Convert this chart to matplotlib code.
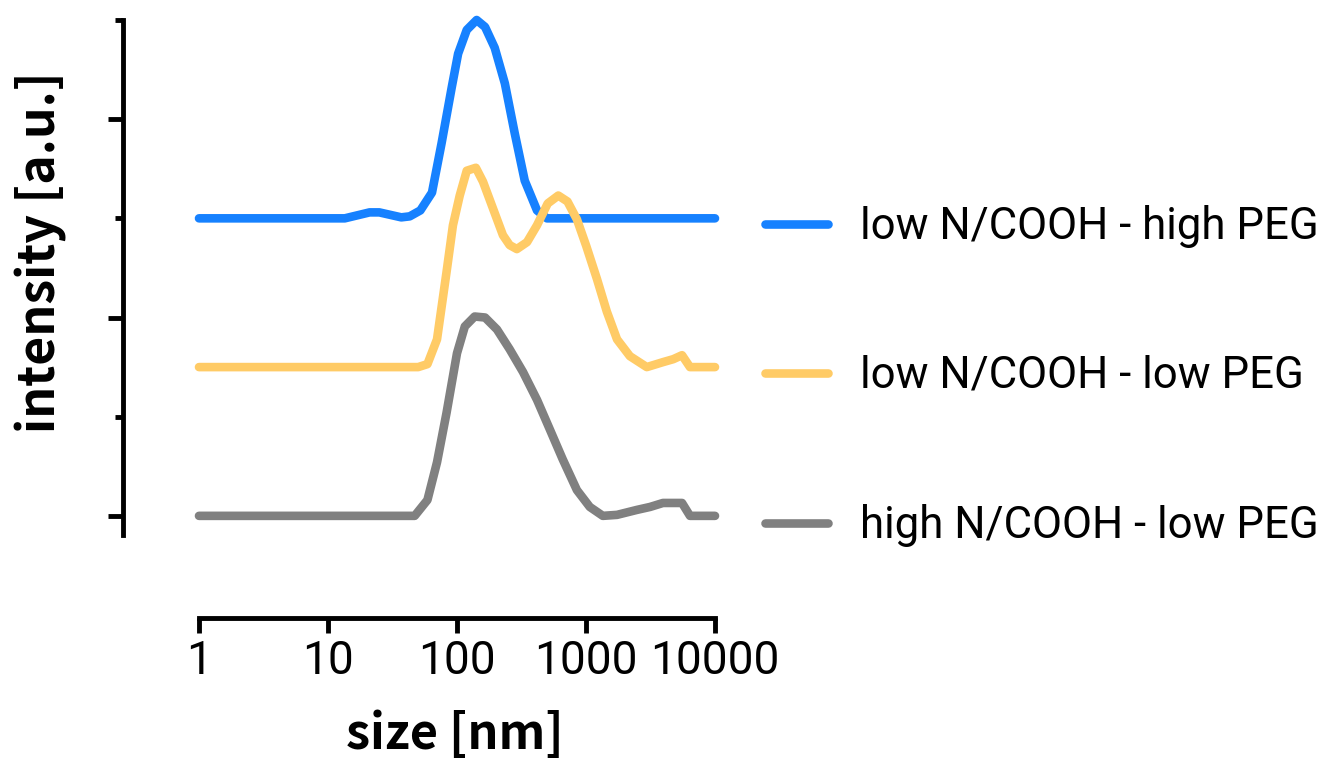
import numpy as np
import matplotlib
matplotlib.use('Agg')
import matplotlib.pyplot as plt
from matplotlib.ticker import FixedLocator, LogLocator, NullFormatter

plt.rcParams['font.family'] = ['Noto Sans CJK KR', 'DejaVu Sans']

# size [nm] and intensity (peak-normalised) for each sample
labels = ['low N/COOH - high PEG', 'low N/COOH - low PEG', 'high N/COOH - low PEG']
colors = ['#1681FF', '#FFCB66', '#808080']
offsets = [3.0, 1.5, 0.0]

size_blue = [1, 13.5, 21, 25, 37, 43, 52, 64, 76, 91, 102, 119, 142, 165, 196,
             235, 280, 335, 417, 498, 10000]
int_blue = [0, 0, 0.06, 0.06, 0.01, 0.02, 0.08, 0.26, 0.76, 1.32, 1.66, 1.90,
            2.00, 1.93, 1.72, 1.36, 0.86, 0.38, 0.08, 0, 0]

size_yellow = [1, 50, 59, 70, 83, 93, 105, 119, 140, 159, 190, 227, 256, 291,
               349, 417, 505, 610, 718, 850, 1005, 1215, 1450, 1740, 2190,
               2960, 3950, 4750, 5550, 6400, 10000]
int_yellow = [0, 0, 0.03, 0.28, 0.96, 1.43, 1.73, 1.98, 2.01, 1.87, 1.60, 1.33,
              1.23, 1.19, 1.26, 1.43, 1.65, 1.73, 1.67, 1.49, 1.22, 0.89, 0.56,
              0.28, 0.11, 0, 0.05, 0.08, 0.12, 0, 0]

size_gray = [1, 47, 59, 70, 83, 100, 115, 137, 165, 204, 256, 325, 417, 525,
             660, 850, 1070, 1350, 1740, 2480, 3140, 3950, 5550, 6400, 10000]
int_gray = [0, 0, 0.16, 0.54, 1.04, 1.64, 1.91, 2.01, 2.00, 1.88, 1.68, 1.45,
            1.17, 0.87, 0.57, 0.26, 0.09, 0, 0.01, 0.06, 0.09, 0.13, 0.13,
            0, 0]

sizes = [size_blue, size_yellow, size_gray]
intens = [int_blue, int_yellow, int_gray]

fig = plt.figure(figsize=(13.27, 7.70), dpi=100)
ax = fig.add_axes([123/1327, 1-618/770, (715-123)/1327, (618-20)/770])

lines = []
for s, y, off, c, lab in zip(sizes, intens, offsets, colors, labels):
    ln, = ax.plot(s, np.array(y) + off, color=c, lw=6.2, label=lab,
                  solid_capstyle='round', solid_joinstyle='round', clip_on=False)
    lines.append(ln)

ax.set_xscale('log')
ax.set_xlim(10**((123-199)/129), 10000)
ax.set_ylim(-1.03, 5)

for side in ['top', 'right']:
    ax.spines[side].set_visible(False)
ax.spines['left'].set_bounds(-0.19, 5)
ax.spines['bottom'].set_bounds(1, 10000)
ax.spines['left'].set_linewidth(3.5)
ax.spines['bottom'].set_linewidth(3.5)

ax.set_xticks([1, 10, 100, 1000, 10000])
ax.set_xticklabels(['1', '10', '100', '1000', '10000'], fontfamily='Roboto')
ax.xaxis.set_minor_locator(LogLocator(base=10, subs=np.arange(2, 10)))
ax.xaxis.set_minor_formatter(NullFormatter())
ax.yaxis.set_major_locator(FixedLocator([0, 2, 4]))
ax.yaxis.set_minor_locator(FixedLocator([1, 3, 5]))
ax.set_yticklabels([])

ax.tick_params(which='major', length=11, width=3.5, labelsize=33, pad=4)
ax.tick_params(which='minor', length=6, width=3.5)

fig.text(455/1327, 1-735/770, 'size [nm]', fontsize=35, fontweight='bold',
         ha='center', va='center')
fig.text(41/1327, 1-252/770, 'intensity [a.u.]', fontsize=36, fontweight='bold',
         rotation=90, ha='center', va='center')

fig.legend(handles=lines, loc='center left', bbox_to_anchor=(765/1327, 1-376/770),
           frameon=False, prop={'family': 'Roboto', 'size': 31.5},
           handlelength=1.45, handletextpad=0.72, labelspacing=2.45,
           borderpad=0, borderaxespad=0)

fig.savefig('out.png', dpi=100)
